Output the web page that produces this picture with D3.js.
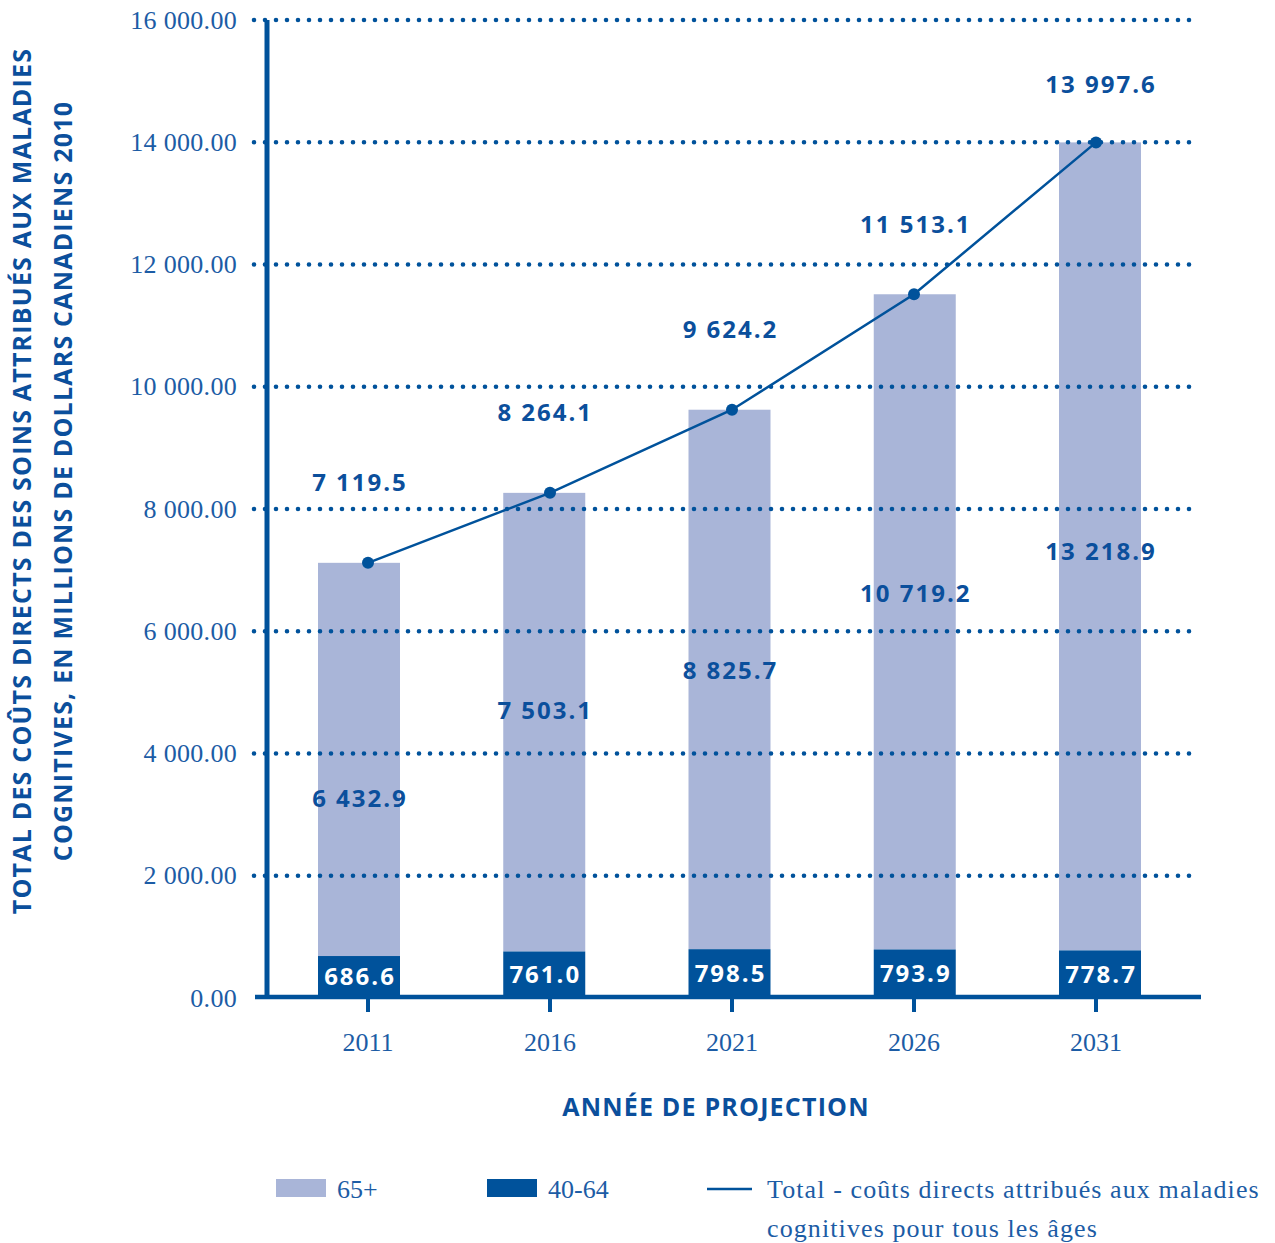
<!DOCTYPE html>
<html lang="fr">
<head>
<meta charset="utf-8">
<script src="https://cdn.jsdelivr.net/npm/d3@7"></script>
<style>
  html, body { margin: 0; padding: 0; background: #fff; }
  svg { display: block; }
  .serif { font-family: "Liberation Serif", "Times New Roman", serif; fill: #1c5ca5; }
  .bold { font-family: "Open Sans", "DejaVu Sans", sans-serif; font-weight: 700; fill: #0b4f9c; }
</style>
</head>
<body>
<svg id="chart" width="1275" height="1243"></svg>
<script>
// Projected direct costs of cognitive diseases (millions of 2010 CAD)
const years = ["2011", "2016", "2021", "2026", "2031"];
const age65plus = [6432.9, 7503.1, 8825.7, 10719.2, 13218.9];
const age40to64 = [686.6, 761.0, 798.5, 793.9, 778.7];
const totals = [7119.5, 8264.1, 9624.2, 11513.1, 13997.6];
const yTicks = [0, 2000, 4000, 6000, 8000, 10000, 12000, 14000, 16000];

// per-label vertical nudges (px) to keep value labels clear of the line
const totalLabelNudge = [0, 0, 0, 10, 22];
const olderLabelNudge = [39, -12, -9, -28, 5];

const BLUE = "#00529b";
const LIGHT = "#a9b5d8";

const svg = d3.select("#chart");
const fmt = v => d3.format(",.1f")(v).replace(/,/g, " ");
const fmtTick = v => d3.format(",.2f")(v).replace(/,/g, " ");

const y = d3.scaleLinear().domain([0, 16000]).range([998, 20]);
const xBar = d3.scalePoint().domain(years).range([359, 1100]);
const xLine = d3.scalePoint().domain(years).range([368, 1096]);
const barW = 82;

const rows = years.map((yr, i) => ({
  year: yr, older: age65plus[i], mid: age40to64[i], total: totals[i], i
}));

// bars: 40-64 at the base, 65+ stacked on top
const bars = svg.append("g");
bars.selectAll("rect.older").data(rows).join("rect")
  .attr("x", d => xBar(d.year) - barW / 2)
  .attr("width", barW)
  .attr("y", d => y(d.mid + d.older))
  .attr("height", d => y(d.mid) - y(d.mid + d.older))
  .attr("fill", LIGHT);
bars.selectAll("rect.mid").data(rows).join("rect")
  .attr("x", d => xBar(d.year) - barW / 2)
  .attr("width", barW)
  .attr("y", d => y(d.mid))
  .attr("height", d => y(0) - y(d.mid))
  .attr("fill", BLUE);

// dotted gridlines
svg.append("g").selectAll("line").data(yTicks.filter(t => t > 0)).join("line")
  .attr("x1", 254).attr("x2", 1200)
  .attr("y1", d => y(d)).attr("y2", d => y(d))
  .attr("stroke", BLUE).attr("stroke-width", 4.6)
  .attr("stroke-linecap", "round").attr("stroke-dasharray", "0,11");

// y tick labels
svg.append("g").selectAll("text").data(yTicks).join("text")
  .attr("class", "serif")
  .attr("x", 237).attr("y", d => y(d))
  .attr("dy", "0.33em")
  .attr("text-anchor", "end")
  .attr("font-size", 26)
  .attr("letter-spacing", "0.3px")
  .text(fmtTick);

// axes lines
svg.append("line").attr("x1", 267).attr("x2", 267).attr("y1", 20).attr("y2", 999)
  .attr("stroke", BLUE).attr("stroke-width", 5);
svg.append("line").attr("x1", 255).attr("x2", 1201).attr("y1", 997).attr("y2", 997)
  .attr("stroke", BLUE).attr("stroke-width", 4.5);

// x ticks and labels
const xAxis = svg.append("g");
xAxis.selectAll("line").data(years).join("line")
  .attr("x1", d => xLine(d)).attr("x2", d => xLine(d))
  .attr("y1", 997).attr("y2", 1012)
  .attr("stroke", BLUE).attr("stroke-width", 4);
xAxis.selectAll("text").data(years).join("text")
  .attr("class", "serif")
  .attr("x", d => xLine(d)).attr("y", 1051)
  .attr("text-anchor", "middle")
  .attr("font-size", 26)
  .text(d => d);

// total line with markers
svg.append("path").datum(rows)
  .attr("fill", "none").attr("stroke", BLUE).attr("stroke-width", 2.5)
  .attr("d", d3.line().x(d => xLine(d.year)).y(d => y(d.total)));
svg.append("g").selectAll("circle").data(rows).join("circle")
  .attr("cx", d => xLine(d.year)).attr("cy", d => y(d.total))
  .attr("r", 6).attr("fill", BLUE);

// value labels
const lbl = svg.append("g").attr("class", "bold").attr("font-size", 24)
  .attr("letter-spacing", "2px").attr("text-anchor", "middle");
lbl.selectAll("text.tot").data(rows).join("text")
  .attr("x", d => xBar(d.year) + 1).attr("y", d => y(d.total) - 80 + totalLabelNudge[d.i])
  .attr("dy", "0.35em")
  .text(d => fmt(d.total));
lbl.selectAll("text.old").data(rows).join("text")
  .attr("x", d => xBar(d.year) + 1)
  .attr("y", d => (y(d.mid) + y(d.total)) / 2 + olderLabelNudge[d.i])
  .attr("dy", "0.35em")
  .text(d => fmt(d.older));
lbl.selectAll("text.mid").data(rows).join("text")
  .attr("x", d => xBar(d.year) + 1)
  .attr("y", d => (y(0) + y(d.mid)) / 2)
  .attr("dy", "0.35em")
  .style("fill", "#fff")
  .text(d => fmt(d.mid));

// axis titles
svg.append("text").attr("class", "bold").attr("font-size", 25)
  .attr("letter-spacing", "1.2px")
  .attr("x", 716).attr("y", 1107).attr("dy", "0.35em")
  .attr("text-anchor", "middle")
  .text("ANNÉE DE PROJECTION");
const yt = svg.append("text").attr("class", "bold").attr("font-size", 25)
  .attr("letter-spacing", "1.2px")
  .attr("text-anchor", "middle")
  .attr("transform", "translate(0,481) rotate(-90)");
yt.append("tspan").attr("x", 0).attr("y", 31)
  .text("TOTAL DES COÛTS DIRECTS DES SOINS ATTRIBUÉS AUX MALADIES");
yt.append("tspan").attr("x", 0).attr("y", 72)
  .text("COGNITIVES, EN MILLIONS DE DOLLARS CANADIENS 2010");

// legend
const lg = svg.append("g");
lg.append("rect").attr("x", 276).attr("y", 1179).attr("width", 50).attr("height", 18).attr("fill", LIGHT);
lg.append("text").attr("class", "serif").attr("font-size", 26).attr("x", 337).attr("y", 1198).text("65+");
lg.append("rect").attr("x", 487).attr("y", 1179).attr("width", 50).attr("height", 18).attr("fill", BLUE);
lg.append("text").attr("class", "serif").attr("font-size", 26).attr("x", 548).attr("y", 1198).text("40-64");
lg.append("line").attr("x1", 707).attr("x2", 752).attr("y1", 1189).attr("y2", 1189)
  .attr("stroke", BLUE).attr("stroke-width", 2.5);
const lt = lg.append("text").attr("class", "serif").attr("font-size", 26)
  .attr("letter-spacing", "1.1px");
lt.append("tspan").attr("x", 767).attr("y", 1198).text("Total - coûts directs attribués aux maladies");
lt.append("tspan").attr("x", 767).attr("y", 1237).text("cognitives pour tous les âges");
</script>
</body>
</html>
